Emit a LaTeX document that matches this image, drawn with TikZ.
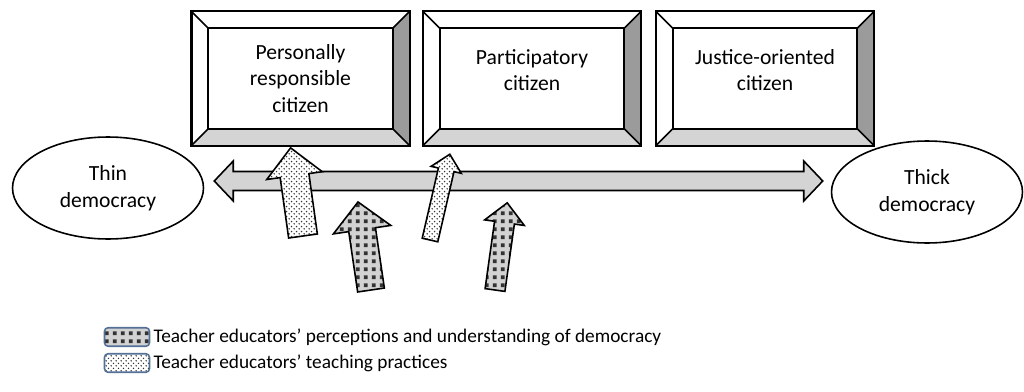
\documentclass[tikz,border=0pt]{standalone}
\usepackage{fontspec}
\setmainfont{Carlito}
\usepackage{xcolor}
\usetikzlibrary{calc,positioning,shapes.geometric,patterns}

\definecolor{keyblue}{RGB}{84,112,150}
\definecolor{bevelright}{RGB}{155,155,155}
\definecolor{bevelbottom}{RGB}{212,212,212}

% small plaid for the perception arrows
\pgfdeclarepatternformonly{plaid}{\pgfqpoint{0pt}{0pt}}{\pgfqpoint{4.6pt}{4.6pt}}{\pgfqpoint{4.6pt}{4.6pt}}{%
  \pgfpathrectangle{\pgfqpoint{0.6pt}{0.6pt}}{\pgfqpoint{2.3pt}{2.3pt}}\pgfusepath{fill}}
% dense dots for the practice arrows
\pgfdeclarepatternformonly{finedots}{\pgfqpoint{0pt}{0pt}}{\pgfqpoint{3pt}{3pt}}{\pgfqpoint{3pt}{3pt}}{%
  \pgfpathcircle{\pgfqpoint{0.75pt}{0.75pt}}{0.5pt}
  \pgfpathcircle{\pgfqpoint{2.25pt}{2.25pt}}{0.5pt}\pgfusepath{fill}}

\tikzset{
  citizen/.style={draw,line width=0.9pt,minimum width=4.34cm,minimum height=2.66cm,
    align=center,font=\fontsize{12.3}{15}\selectfont},
  democracy/.style={draw,ellipse,line width=0.9pt,minimum width=3.82cm,minimum height=2.04cm,
    inner sep=0pt,align=center,font=\fontsize{12.3}{15.5}\selectfont},
  scalebar/.style={draw,line width=0.9pt,fill=bevelbottom},
  perception/.style={draw,line width=0.9pt,preaction={fill=gray!35},pattern=plaid,pattern color=black!80},
  practice/.style={draw,line width=0.9pt,preaction={fill=white},pattern=finedots,pattern color=black!80},
  keybox/.style={draw=keyblue,line width=1pt,rounded corners=2pt,minimum width=0.9cm,minimum height=0.37cm,inner sep=0pt},
  keytext/.style={inner sep=0pt,anchor=west,font=\fontsize{11}{13}\selectfont}
}

% bevel faces of a citizen box
\newcommand{\bevel}[1]{%
  \fill[white] (#1.north west) -- (#1.north east) -- ($(#1.north east)+(-17,17)$) -- ($(#1.north west)+(17,17)$) -- cycle;
  \fill[bevelright] (#1.north east) -- (#1.south east) -- ($(#1.south east)+(-17,-17)$) -- ($(#1.north east)+(-17,17)$) -- cycle;
  \fill[bevelbottom] (#1.south west) -- (#1.south east) -- ($(#1.south east)+(-17,-17)$) -- ($(#1.south west)+(17,-17)$) -- cycle;
  \draw[line width=0.9pt] ($(#1.north west)+(17,17)$) rectangle ($(#1.south east)+(-17,-17)$);
  \draw[line width=0.9pt] (#1.north west) -- ++(17,17) (#1.north east) -- ++(-17,17)
    (#1.south west) -- ++(17,-17) (#1.south east) -- ++(-17,-17);
  \draw[line width=0.9pt] (#1.north west) rectangle (#1.south east);}

% block arrow: name, base, angle, length, shaft half, head half, head length, style
\newcommand{\blockarrow}[8]{%
  \begin{scope}[shift={(#2)},rotate=#3]
    \draw[#8] (-#5,0) -- (-#5,-#4+#7) -- (-#6,-#4+#7) -- (0,-#4) coordinate (#1)
      -- (#6,-#4+#7) -- (#5,-#4+#7) -- (#5,0) -- cycle;
  \end{scope}}

\begin{document}
\begin{tikzpicture}[x=0.02cm,y=-0.02cm]
\useasboundingbox (0,0) rectangle (1024,392);

% citizen types
\node[citizen] (prc) at (300.5,78.5) {Personally\\responsible\\citizen};
\bevel{prc}
\node[citizen] (pc) at (532,78.5) {};
\bevel{pc}
\node[align=center,font=\fontsize{12.3}{15}\selectfont] (pctext) at (532,70) {Participatory\\citizen};
\node[citizen] (joc) at (765,78.5) {};
\bevel{joc}
\node[align=center,font=\fontsize{12.3}{15}\selectfont] (joctext) at (765,70) {Justice-oriented\\citizen};

% democracy scale
\node[democracy] (thin) at (108,188) {Thin\\democracy};
\node[democracy] (thick) at (927,192) {Thick\\democracy};
\coordinate (lt) at ($(thin.east)+(10,-7)$);
\coordinate (rt) at ($(thick.west)+(-8,-11)$);
\draw[scalebar] (lt) -- ($(lt)+(19,-20)$) -- ($(lt)+(19,-9.5)$) -- ($(rt)+(-19,-9.5)$)
  -- ($(rt)+(-19,-20)$) -- (rt) -- ($(rt)+(-19,20)$) -- ($(rt)+(-19,9.5)$)
  -- ($(lt)+(19,9.5)$) -- ($(lt)+(19,20)$) -- cycle;

% influences
\blockarrow{tipA}{303,236}{8}{89}{14.5}{28}{28}{practice}
\blockarrow{tipB}{371,290}{8.4}{89}{13.5}{29}{28}{perception}
\blockarrow{tipC}{430,240}{-13}{88}{8}{15.5}{16}{practice}
\blockarrow{tipD}{495,290}{-8}{88}{10}{20}{20}{perception}

% key
\node[keybox,perception] (keyperc) at (127,337) {};
\node[keytext,right=0.06cm of keyperc] (percl) {Teacher educators’ perceptions and understanding of democracy};
\node[keybox,practice] (keyteach) at (127,363) {};
\node[keytext,right=0.06cm of keyteach] (teachl) {Teacher educators’ teaching practices};
\end{tikzpicture}
\end{document}
